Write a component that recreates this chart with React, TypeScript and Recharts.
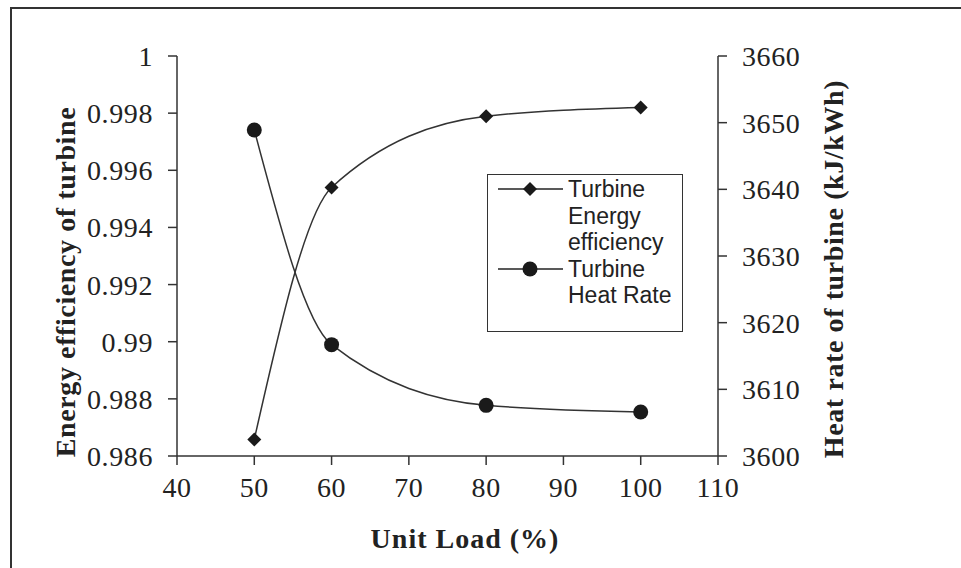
import React from "react";
import { ComposedChart, Line, XAxis, YAxis, Legend, Label } from "recharts";

const loads = [50, 60, 80, 100];
const energyEff = [0.98658, 0.9954, 0.99789, 0.9982];
const heatRate = [3648.9, 3616.7, 3607.6, 3606.6];

const xTicks = [40, 50, 60, 70, 80, 90, 100, 110];
const effTicks = [0.986, 0.988, 0.99, 0.992, 0.994, 0.996, 0.998, 1];
const hrTicks = [3600, 3610, 3620, 3630, 3640, 3650, 3660];

const rows = loads.map((x, i) => ({ x, eff: energyEff[i], hr: heatRate[i] }));

const INK = "#222";
const serif = "'Liberation Serif', 'Times New Roman', serif";
const sans = "'Liberation Sans', Arial, sans-serif";
const tickStyle = { fill: INK, fontSize: 28, fontFamily: serif, letterSpacing: 0.6 };

const Diamond = (p: any) => {
  const { cx, cy } = p;
  if (cx == null || cy == null) return null;
  const s = 7;
  return <path d={`M${cx},${cy - s}L${cx + s},${cy}L${cx},${cy + s}L${cx - s},${cy}Z`} fill="#1a1a1a" />;
};

const Dot = (p: any) => {
  const { cx, cy } = p;
  if (cx == null || cy == null) return null;
  return <circle cx={cx} cy={cy} r={7.5} fill="#1a1a1a" />;
};

const LegendBox = () => {
  const item = (marker: React.ReactNode, lines: string[]) => (
    <div style={{ display: "flex", alignItems: "flex-start" }}>
      <svg width={80} height={27} style={{ flex: "none" }}>
        <line x1={10} y1={13} x2={75} y2={13} stroke="#222" strokeWidth={1.5} />
        {marker}
      </svg>
      <div style={{ fontFamily: sans, fontSize: 23, lineHeight: "26.5px", color: INK, width: 115 }}>
        {lines.map(l => <div key={l}>{l}</div>)}
      </div>
    </div>
  );
  return (
    <div>
      {item(<path d="M42,6L49,13L42,20L35,13Z" fill="#1a1a1a" />, ["Turbine", "Energy", "efficiency"])}
      {item(<circle cx={42} cy={13} r={7.5} fill="#1a1a1a" />, ["Turbine", "Heat Rate"])}
    </div>
  );
};

const titleProps = { fontFamily: serif, fontSize: 28, fontWeight: "bold" as const, fill: INK };

export default function App() {
  return (
    <div style={{ position: "absolute", left: 0, top: 0, width: 961, height: 568, background: "#fff" }}>
      <div
        style={{
          position: "absolute", left: 10, top: 7, width: 951, height: 561,
          borderLeft: "2.5px solid #333", borderTop: "2.5px solid #333", boxSizing: "border-box"
        }}
      />
      <ComposedChart
        width={961}
        height={568}
        data={rows}
        margin={{ top: 56, right: 143, left: 27, bottom: 72 }}
        style={{ position: "absolute", left: 0, top: 0 }}
      >
        <XAxis
          dataKey="x"
          type="number"
          domain={[40, 110]}
          ticks={xTicks}
          height={40}
          tickSize={9}
          tickMargin={12}
          stroke="#333"
          strokeWidth={1.5}
          tick={tickStyle}
        >
          <Label
            content={() => (
              <text x={465} y={548} textAnchor="middle" letterSpacing={1} {...titleProps}>
                Unit Load (%)
              </text>
            )}
          />
        </XAxis>
        <YAxis
          yAxisId="eff"
          orientation="left"
          width={150}
          domain={[0.986, 1]}
          ticks={effTicks}
          allowDataOverflow
          tickSize={9}
          tickMargin={15}
          stroke="#333"
          strokeWidth={1.5}
          tickFormatter={(v: number) => String(v)}
          tick={tickStyle}
        >
          <Label
            content={() => (
              <text x={75} y={282} transform="rotate(-90 75 282)" textAnchor="middle" letterSpacing={0.6} {...titleProps}>
                Energy efficiency of turbine
              </text>
            )}
          />
        </YAxis>
        <YAxis
          yAxisId="hr"
          orientation="right"
          width={100}
          domain={[3600, 3660]}
          ticks={hrTicks}
          allowDataOverflow
          tickSize={9}
          tickMargin={15}
          stroke="#333"
          strokeWidth={1.5}
          tick={tickStyle}
        >
          <Label
            content={() => (
              <text x={843} y={269} transform="rotate(-90 843 269)" textAnchor="middle" letterSpacing={0.6} {...titleProps}>
                Heat rate of turbine (kJ/kWh)
              </text>
            )}
          />
        </YAxis>
        <Legend
          layout="vertical"
          align="center"
          verticalAlign="middle"
          content={() => <LegendBox />}
          wrapperStyle={{
            left: 487, top: 174, width: 196, height: 158, border: "1.5px solid #333",
            boxSizing: "border-box", background: "#fff", paddingTop: 1
          }}
        />
        <Line
          yAxisId="eff"
          dataKey="eff"
          name="Turbine Energy efficiency"
          type="monotone"
          stroke="#333"
          strokeWidth={1.5}
          dot={<Diamond />}
          activeDot={false}
          isAnimationActive={false}
        />
        <Line
          yAxisId="hr"
          dataKey="hr"
          name="Turbine Heat Rate"
          type="monotone"
          stroke="#333"
          strokeWidth={1.5}
          dot={<Dot />}
          activeDot={false}
          isAnimationActive={false}
        />
      </ComposedChart>
    </div>
  );
}
